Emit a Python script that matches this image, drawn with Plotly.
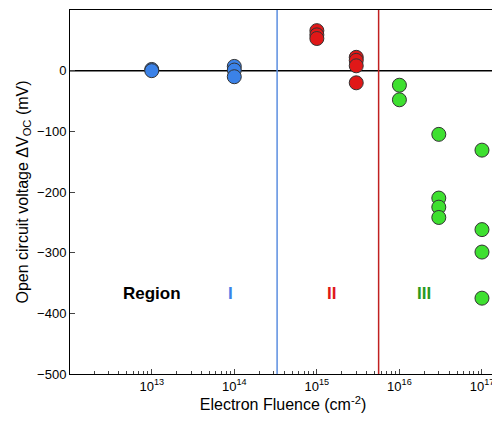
import math
import plotly.graph_objects as go

blue_x = [1e13, 1e13, 1e14, 1e14, 1e14]
blue_y = [2, 0, 7, 1, -10]
red_x = [1e15, 1e15, 1e15, 3e15, 3e15, 3e15, 3e15]
red_y = [66, 59, 53, 22, 17, 8, -20]
green_x = [1e16, 1e16, 3e16, 3e16, 3e16, 3e16, 1e17, 1e17, 1e17, 1e17]
green_y = [-24, -48, -105, -210, -225, -242, -131, -262, -299, -375]
boundaries = [3.3e14, 5.6e15]
region_labels = ["Region", "I", "II", "III"]
region_x = [1.0e13, 9e13, 1.5e15, 2.0e16]

fig = go.Figure()
def add(x, y, c):
    fig.add_trace(go.Scatter(x=x, y=y, mode="markers",
        marker=dict(size=14, color=c, line=dict(color="#333", width=1))))
add(blue_x, blue_y, "#3b82e8")
add(red_x, red_y, "#e01818")
add(green_x, green_y, "#3ee030")

fig.add_shape(type="line", xref="paper", x0=0, x1=1, y0=0, y1=0, line=dict(color="black", width=1.5), layer="below")
fig.add_shape(type="line", x0=boundaries[0], x1=boundaries[0], yref="paper", y0=0, y1=1, line=dict(color="#5b8ee0", width=1.5))
fig.add_shape(type="line", x0=boundaries[1], x1=boundaries[1], yref="paper", y0=0, y1=1, line=dict(color="#c02020", width=1.5))

for x, t, c in zip(region_x, region_labels, ["black", "#3b82e8", "#e01818", "#2a9a20"]):
    fig.add_annotation(x=math.log10(x), y=-368, text="<b>%s</b>" % t, showarrow=False,
                       font=dict(size=17, color=c, family="Arial"))

fig.update_layout(width=492, height=418, margin=dict(l=62, r=4, t=2, b=52),
    plot_bgcolor="white", paper_bgcolor="white", showlegend=False,
    font=dict(family="Arial", size=13, color="black"))
fig.update_xaxes(type="log", range=[12.01, 17.17], showgrid=False, showline=True, linecolor="black", mirror=True,
    ticks="inside", tickvals=[1e13, 1e14, 1e15, 1e16, 1e17],
    ticktext=["10<sup>13</sup>", "10<sup>14</sup>", "10<sup>15</sup>", "10<sup>16</sup>", "10<sup>17</sup>"],
    minor=dict(ticks="inside", ticklen=3, dtick="D1"), zeroline=False,
    title=dict(text="Electron Fluence (cm<sup>-2</sup>)", standoff=6))
fig.update_yaxes(range=[-500, 100], dtick=100, showgrid=False, showline=True, linecolor="black", mirror=True,
    ticks="inside", zeroline=False, title=dict(text="Open circuit voltage ΔV<sub>OC</sub> (mV)", standoff=4))
fig.write_html("out.html")
